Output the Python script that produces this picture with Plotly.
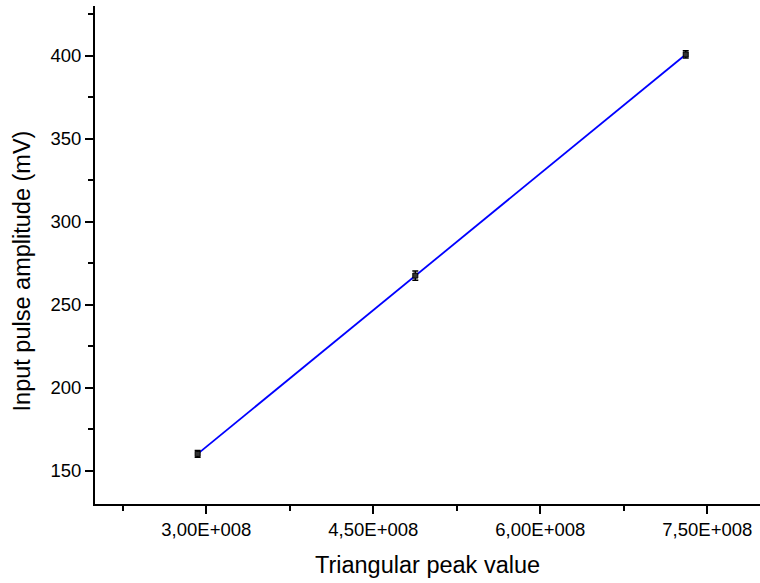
import plotly.graph_objects as go

x_vals = [2.922e8, 4.877e8, 7.306e8]
y_vals = [160.2, 267.6, 400.8]
y_err = [2.0, 2.8, 2.2]
x_tickvals = [3.0e8, 4.5e8, 6.0e8, 7.5e8]
x_ticktext = ["3,00E+008", "4,50E+008", "6,00E+008", "7,50E+008"]

font = "Liberation Sans, Arial, sans-serif"

fig = go.Figure()
fig.add_trace(go.Scatter(
    x=x_vals, y=y_vals, mode="lines",
    line=dict(color="#0000ff", width=1.8), showlegend=False))
fig.add_trace(go.Scatter(
    x=x_vals, y=y_vals, mode="markers",
    marker=dict(symbol="square", size=5, color="#333333",
                line=dict(color="black", width=1)),
    error_y=dict(type="data", array=y_err, visible=True,
                 color="black", thickness=1.5, width=3),
    showlegend=False))

fig.update_layout(
    width=760, height=583,
    margin=dict(l=95, r=0, t=6, b=79),
    paper_bgcolor="white", plot_bgcolor="white",
    font=dict(family=font, color="black", size=18.5),
    xaxis=dict(
        range=[2.0e8, 7.973e8], showgrid=False, zeroline=False,
        showline=True, linecolor="black", linewidth=1.8,
        ticks="outside", ticklen=8, tickwidth=1.8, tickcolor="black",
        tickmode="array", tickvals=x_tickvals, ticktext=x_ticktext,
        tickfont=dict(size=18.5, family=font),
        minor=dict(tickmode="linear", tick0=2.25e8, dtick=1.5e8,
                   ticks="outside", ticklen=5, tickwidth=1.8, tickcolor="black"),
        title=dict(text="Triangular peak value", font=dict(size=23.5, family=font), standoff=17),
    ),
    yaxis=dict(
        range=[130, 430], showgrid=False, zeroline=False,
        showline=True, linecolor="black", linewidth=1.8,
        ticks="outside", ticklen=8, tickwidth=1.8, tickcolor="black",
        tickmode="linear", tick0=150, dtick=50,
        tickfont=dict(size=18.5, family=font),
        minor=dict(tickmode="linear", tick0=125, dtick=50,
                   ticks="outside", ticklen=5, tickwidth=1.8, tickcolor="black"),
    ),
    annotations=[dict(
        text="Input pulse amplitude (mV)", textangle=-90,
        xref="paper", yref="paper", x=0, y=0.467,
        xanchor="center", yanchor="middle", xshift=-73,
        showarrow=False, font=dict(size=23.5, family=font, color="black"),
    )],
)

fig.write_html("out.html")
